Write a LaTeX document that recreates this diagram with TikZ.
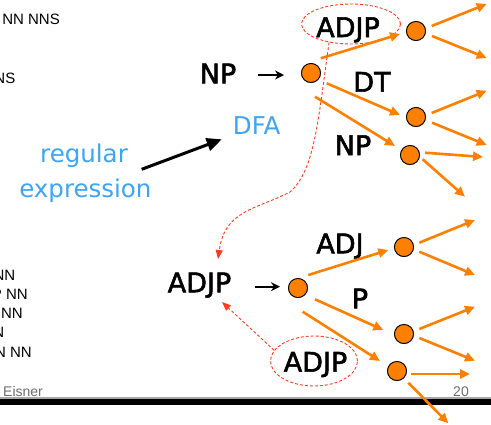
\documentclass[tikz,border=0pt]{standalone}
\usepackage{fontspec}
\setmainfont{Liberation Sans}
\newfontfamily\lblfont[FakeBold=2]{DejaVu Sans}
\newfontfamily\blufont{DejaVu Sans}
\usetikzlibrary{arrows.meta,shapes.geometric}
\definecolor{org}{RGB}{255,128,0}
\definecolor{dred}{RGB}{255,60,30}
\definecolor{lblue}{RGB}{60,165,245}
\definecolor{gtxt}{RGB}{110,110,110}
\tikzset{
  lbl/.style={font=\lblfont\fontsize{27}{30}\selectfont, inner sep=0pt, anchor=base},
  blu/.style={font=\blufont\fontsize{24.5}{28}\selectfont, text=lblue, inner sep=0pt, anchor=base},
  dot/.style={circle, draw=black, line width=0.8pt, fill=org, minimum size=19pt, inner sep=0pt},
  oarr/.style={draw=org, line width=2.6pt, -{Triangle[length=10pt,width=9pt]}},
  karr/.style={line width=2.2pt, -{Stealth[length=9pt,width=9pt]}},
  bigarr/.style={line width=3pt, -{Triangle[length=15pt,width=13pt]}},
  rdash/.style={draw=dred, line width=0.9pt, dash pattern=on 3pt off 2pt, -{Triangle[length=9pt,width=7pt]}},
  ring/.style={ellipse, draw=dred, line width=0.9pt, dash pattern=on 3pt off 2pt, inner sep=0pt},
  cut/.style={font=\fontsize{15}{18}\selectfont, inner sep=0pt, anchor=base east},
  foot/.style={font=\fontsize{14}{16}\selectfont, text=gtxt, inner sep=0pt}
}
\begin{document}
\begin{tikzpicture}[x=1pt,y=-1pt]
\useasboundingbox (0,0) rectangle (491,424);
\fill[white] (0,0) rectangle (491,424);

% clipped text on the left
\node[cut] (l1) at (60,24) {NN NNS};
\node[cut] (l2) at (15.5,83) {NS};
\node[cut] (l3) at (15.5,280) {NN};
\node[cut] (l4) at (28,299.5) {P NN};
\node[cut] (l5) at (23,318) {NN};
\node[cut] (l6) at (4.5,337) {N};
\node[cut] (l7) at (32,357) {N NN};

% footer
\fill[gray!70] (0,397) rectangle (491,399);
\fill[black] (0,399) rectangle (491,405);
\node[foot, anchor=base west] (ei) at (3,396.5) {Eisner};
\node[foot, anchor=base east] (pg) at (469,396.5) {20};

% labels
\node[lbl] (npL) at (218,83.3) {NP};
\node[lbl] (ta) at (348,37) {ADJP};
\node[lbl] (dt) at (372,91.7) {DT};
\node[lbl] (np2) at (353,155) {NP};
\node[lbl] (adjpL) at (199.5,292.3) {ADJP};
\node[lbl] (adj) at (340,253.3) {ADJ};
\node[lbl] (pp) at (360,308.3) {P};
\node[lbl] (tb) at (315.5,371.7) {ADJP};
\node[blu] (dfa) at (256.7,134) {DFA};
\node[blu] (rg) at (84,162.5) {regular};
\node[blu] (ex) at (85.4,197.4) {expression};

% dashed rings
\node[ring, minimum width=99pt, minimum height=40pt] (ea) at (351,24) {};
\node[ring, minimum width=87pt, minimum height=50pt] (eb) at (314,361) {};

% circles
\node[dot] (np) at (311,73) {};
\node[dot] (a1) at (416,31) {};
\node[dot] (a2) at (416,117) {};
\node[dot] (a3) at (410,155) {};
\node[dot] (bp) at (298,288) {};
\node[dot] (b1) at (404,247) {};
\node[dot] (b2) at (404,334) {};
\node[dot] (b3) at (397,371) {};

% free ends
\coordinate (a1u) at (486.7,4);
\coordinate (a1d) at (486.7,58);
\coordinate (a2u) at (486.7,90.7);
\coordinate (a2d) at (486.7,145);
\coordinate (a3u) at (483,157);
\coordinate (a3d) at (465,196.7);
\coordinate (b1u) at (475,220);
\coordinate (b1d) at (475,275);
\coordinate (b2u) at (475,306.7);
\coordinate (b2d) at (475,360.7);
\coordinate (b3u) at (470,374);
\coordinate (b3d) at (448.3,423.3);
\coordinate (tipA) at (218,259);
\coordinate (tipB) at (222,302);

% orange arrows
\draw[oarr] ([shift={(9.7,-14.7)}]np.center) -- ([shift={(-16,3)}]a1.center);
\draw[oarr] ([shift={(15.7,10.3)}]np.center) -- ([shift={(-16,-2)}]a2.center);
\draw[oarr] ([shift={(4,23.7)}]np.center) -- ([shift={(-15,-9)}]a3.center);
\draw[oarr] ([shift={(15.7,-5)}]a1.center) -- (a1u);
\draw[oarr] ([shift={(16,5)}]a1.center) -- (a1d);
\draw[oarr] ([shift={(15.7,-4)}]a2.center) -- (a2u);
\draw[oarr] ([shift={(16,5.7)}]a2.center) -- (a2d);
\draw[oarr] ([shift={(15,-2.3)}]a3.center) -- (a3u);
\draw[oarr] ([shift={(12.7,4.3)}]a3.center) -- (a3d);

\draw[oarr] ([shift={(10.3,-13)}]bp.center) -- ([shift={(-15.7,3)}]b1.center);
\draw[oarr] ([shift={(17,11.3)}]bp.center) -- ([shift={(-20.7,-4)}]b2.center);
\draw[oarr] ([shift={(4.7,23.7)}]bp.center) -- ([shift={(-17,-10)}]b3.center);
\draw[oarr] ([shift={(15.3,-4.3)}]b1.center) -- (b1u);
\draw[oarr] ([shift={(15.3,4.7)}]b1.center) -- (b1d);
\draw[oarr] ([shift={(15.3,-5)}]b2.center) -- (b2u);
\draw[oarr] ([shift={(15.3,4)}]b2.center) -- (b2d);
\draw[oarr] ([shift={(14,3)}]b3.center) -- (b3u);
\draw[oarr] ([shift={(11.3,11.7)}]b3.center) -- (b3d);

% black arrows
\draw[karr] ([shift={(-53,2)}]np.center) -- ([shift={(-27,2)}]np.center);
\draw[karr] ([shift={(-43,-1.3)}]bp.center) -- ([shift={(-18,-1.3)}]bp.center);
\draw[bigarr] ([shift={(13.7,6.8)}]rg.base east) -- ([shift={(-11,5.3)}]dfa.base west);

% red dashed back arrows
\draw[rdash] (ea.220) .. controls (318,120) and (315,170) .. (290,192)
  .. controls (255,210) and (225,210) .. (tipA);
\draw[rdash] (eb.165) -- (tipB);

% redraw circles on top
\foreach \n in {np,a1,a2,a3,bp,b1,b2,b3}{\draw[line width=0.8pt, fill=org] (\n) circle (9.5pt);}
\end{tikzpicture}
\end{document}
